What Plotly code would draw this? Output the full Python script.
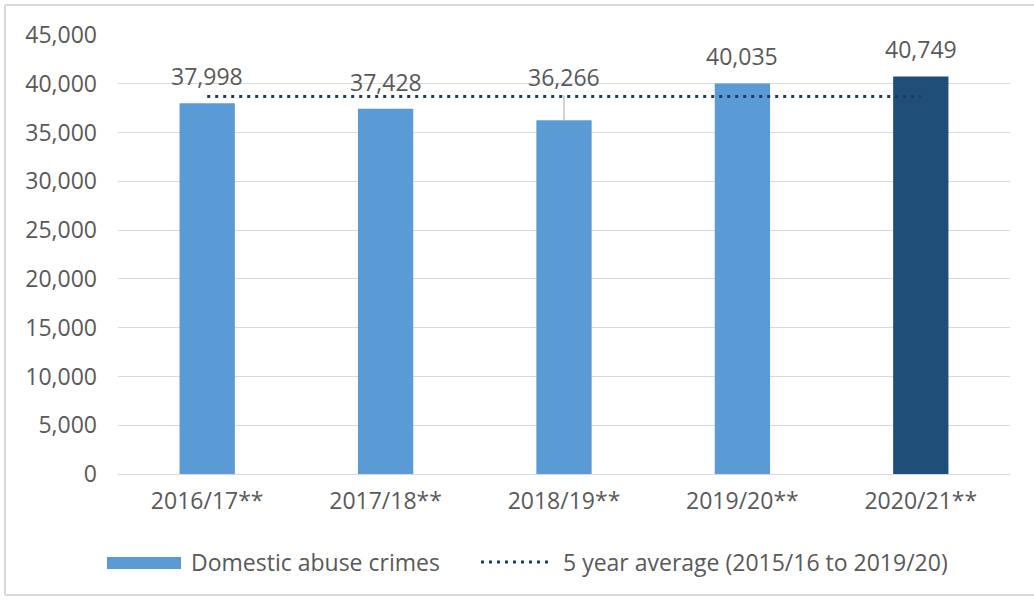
import plotly.graph_objects as go

# ---- data ----
categories = ["2016/17**", "2017/18**", "2018/19**", "2019/20**", "2020/21**"]
crimes = [37998, 37428, 36266, 40035, 40749]
five_year_avg = 38700
series_names = ["Domestic abuse crimes", "5 year average (2015/16 to 2019/20)"]
y_ticks = [0, 5000, 10000, 15000, 20000, 25000, 30000, 35000, 40000, 45000]

# ---- styles ----
W, H = 1034, 601
L, R, T, B = 118, 1010, 35, 474
bar_colors = ["#5B9BD5"] * (len(categories) - 1) + ["#1F4E79"]
line_color = "#1F3864"
text_color = "#595959"
grid_color = "#D9D9D9"
FONT = "Open Sans"
FS = 23
label_shift = [27, 27, 43, 27, 27]
leader = [False, False, True, False, False]


def px(x):
    return (x - L) / (R - L)


def py(y):
    return (B - y) / (B - T)


fig = go.Figure()
fig.add_trace(go.Bar(
    x=categories, y=crimes, marker=dict(color=bar_colors, line=dict(width=0)),
    width=0.31, name=series_names[0], showlegend=False, hoverinfo="x+y",
))
fig.add_trace(go.Scatter(
    x=categories, y=[five_year_avg] * len(categories), mode="lines",
    line=dict(color=line_color, width=3, dash="3px,5px"),
    name=series_names[1], showlegend=False,
))

annotations = []
shapes = []
for c, v, s, ld in zip(categories, crimes, label_shift, leader):
    annotations.append(dict(
        x=c, y=v, xref="x", yref="y", text=f"{v:,}", showarrow=False,
        yanchor="middle", yshift=s, font=dict(family=FONT, size=FS, color=text_color),
    ))
    if ld:
        shapes.append(dict(
            type="line", xref="x", yref="y", x0=c, x1=c,
            ysizemode="pixel", yanchor=v, y0=0, y1=s - 18,
            line=dict(color="#A6A6A6", width=1),
        ))

# custom legend
shapes.append(dict(type="rect", xref="paper", yref="paper",
                   x0=px(107), x1=px(181), y0=py(569), y1=py(557),
                   fillcolor=bar_colors[0], line=dict(width=0)))
shapes.append(dict(type="line", xref="paper", yref="paper",
                   x0=px(481), x1=px(551), y0=py(562), y1=py(562),
                   line=dict(color=line_color, width=3, dash="3px,5px")))
annotations.append(dict(xref="paper", yref="paper", x=px(189), y=py(562),
                        xanchor="left", yanchor="middle", showarrow=False,
                        text=series_names[0],
                        font=dict(family=FONT, size=FS, color=text_color)))
annotations.append(dict(xref="paper", yref="paper", x=px(561), y=py(562),
                        xanchor="left", yanchor="middle", showarrow=False,
                        text=series_names[1],
                        font=dict(family=FONT, size=FS, color=text_color)))

# outer border (left, top, bottom)
for (x0, y0, x1, y1) in [(5, 5, 5, 595), (5, 5, 1040, 5), (5, 595, 1040, 595)]:
    shapes.append(dict(type="line", xref="paper", yref="paper",
                       x0=px(x0), y0=py(y0), x1=px(x1), y1=py(y1),
                       line=dict(color="#D9D9D9", width=2)))

fig.update_layout(
    width=W, height=H,
    margin=dict(l=L, r=W - R, t=T, b=H - B),
    paper_bgcolor="white", plot_bgcolor="white",
    font=dict(family=FONT, size=FS, color=text_color),
    showlegend=False,
    annotations=annotations, shapes=shapes,
    bargap=0.69,
)
fig.update_xaxes(
    type="category", showgrid=False, showline=False, zeroline=False,
    tickfont=dict(family=FONT, size=FS, color=text_color), ticks="",
    ticklabelstandoff=11,
)
fig.update_yaxes(
    range=[0, 45000], tickvals=y_ticks, tickformat=",",
    showgrid=True, gridcolor=grid_color, gridwidth=1,
    zeroline=True, zerolinecolor=grid_color, zerolinewidth=1,
    showline=False, ticks="", ticklabelstandoff=20,
    tickfont=dict(family=FONT, size=FS, color=text_color),
)

fig.write_html("out.html")
